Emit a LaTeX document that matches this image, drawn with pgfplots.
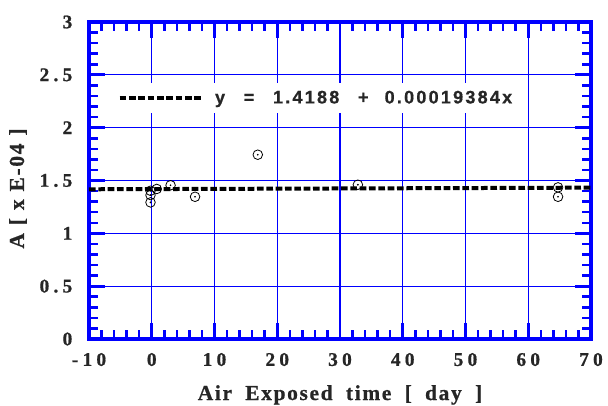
\documentclass[border=0pt]{standalone}
\usepackage{fontspec}
\setmainfont{Liberation Serif}
\newfontfamily\eqfont[LetterSpace=12, BoldFeatures={FakeBold=0.6}]{Liberation Sans}
\newfontfamily\tickfont[LetterSpace=22, BoldFeatures={FakeBold=0.8}]{Liberation Serif}
\newfontfamily\labfont[LetterSpace=8, BoldFeatures={FakeBold=0.8}]{Liberation Serif}
\usepackage{pgfplots}
\pgfplotsset{compat=1.18}
\begin{document}
\begin{tikzpicture}
\begin{axis}[
  at={(0,0)}, anchor=south west,
  scale only axis, width=376.5pt, height=237.75pt,
  xmin=-10, xmax=70, ymin=0, ymax=3,
  xtick={-10,0,10,20,30,40,50,60,70},
  ytick={0,0.5,1,1.5,2,2.5,3},
  xticklabels={-10,0,10,20,30,40,50,60,70},
  yticklabels={0,0.5,1,1.5,2,2.5,3},
  minor x tick num=4, minor y tick num=4,
  tick align=inside,
  major tick length=12pt, minor tick length=6.5pt,
  major tick style={blue, line width=2.2pt},
  minor tick style={blue, line width=1.9pt},
  grid=major, major grid style={blue, line width=0.8pt},
  axis line style={blue, line width=3.5pt},
  tick label style={font={\tickfont\bfseries\fontsize{14.5}{16}\selectfont}, text=black!85},
  xticklabel style={yshift=-7pt},
  yticklabel style={xshift=-9pt},
  xlabel={Air\hspace{10pt}Exposed\hspace{10pt}time\hspace{10pt}[\hspace{10pt}day\hspace{10pt}]},
  ylabel={A\hspace{6pt}[\hspace{6pt}x\hspace{6pt}E-04\hspace{6pt}]},
  label style={font={\labfont\bfseries\fontsize{16}{18}\selectfont}, text=black!85},
  xlabel style={at={(axis description cs:0.5,0)}, anchor=base, yshift=-45.75pt},
  ylabel style={at={(axis description cs:0,0.5)}, anchor=center, yshift=53.25pt, xshift=-6pt},
  legend style={at={(axis description cs:0.046,0.760)}, anchor=west, draw=none, fill=white,
    inner xsep=4pt, inner ysep=4pt,
    font={\eqfont\bfseries\fontsize{13.6}{15}\selectfont}, text=black!85},
  legend image code/.code={\draw[line width=3pt, dash pattern=on 5pt off 2pt] (0pt,0pt) -- (61pt,0pt);},
]
\addplot[black, line width=3pt, dash pattern=on 5pt off 2pt] coordinates {(-10,1.41686) (70,1.43237)};
\addlegendentry{\hspace{7pt}y\hspace{14pt}=\hspace{14pt}1.4188\hspace{14pt}+\hspace{12pt}0.00019384x}
\addplot[only marks, mark=o, mark size=3.6pt, mark options={fill=white, draw=black, line width=0.6pt}, forget plot] coordinates {
(-0.2,1.403) (-0.2,1.362) (-0.2,1.293) (0.8,1.42) (3.0,1.455) (6.9,1.346) (16.9,1.744) (32.85,1.46) (64.75,1.435) (64.75,1.346)};
\addplot[only marks, mark=*, mark size=0.4pt, black, forget plot] coordinates {
(-0.2,1.403) (-0.2,1.362) (-0.2,1.293) (0.8,1.42) (3.0,1.455) (6.9,1.346) (16.9,1.744) (32.85,1.46) (64.75,1.435) (64.75,1.346)};
\end{axis}
\pgfresetboundingbox
\path[use as bounding box] (-66.75pt,-49.5pt) rectangle (389.25pt,254.25pt);
\end{tikzpicture}
\end{document}
